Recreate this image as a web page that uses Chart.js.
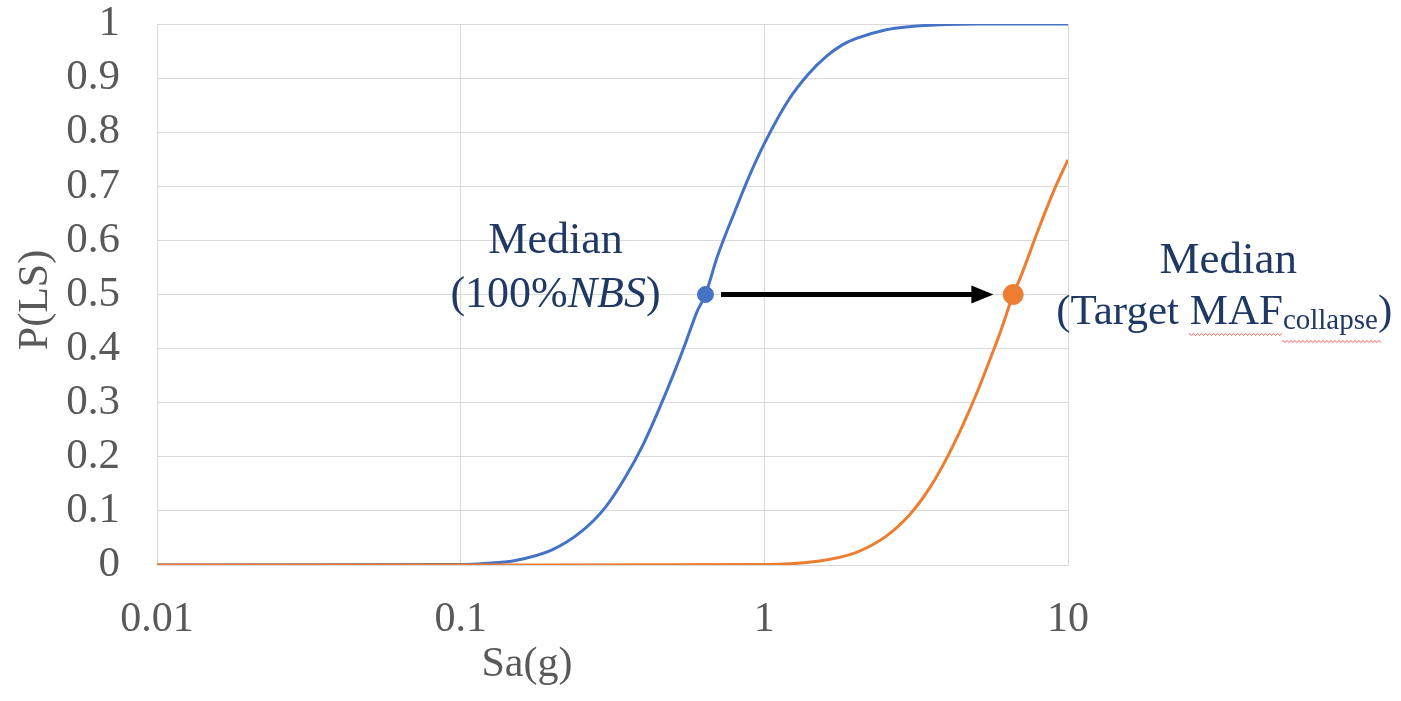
<!DOCTYPE html>
<html>
<head>
<meta charset="utf-8">
<script src="https://cdn.jsdelivr.net/npm/chart.js@4/dist/chart.umd.min.js"></script>
<style>
  html, body { margin: 0; padding: 0; background: #ffffff; }
  #wrap { width: 1401px; height: 701px; position: relative; }
</style>
</head>
<body>
<div id="wrap"><canvas id="c" width="1401" height="701"></canvas></div>
<script>
// ---- data ----
const blueX = [0.01, 0.1, 0.12, 0.15, 0.2, 0.25, 0.3, 0.35, 0.4, 0.45, 0.5, 0.55, 0.6, 0.64, 0.7, 0.8, 0.9, 1.0, 1.2, 1.4, 1.6, 1.8, 2.0, 2.5, 3.0, 4.0, 5.0, 10];
const blueY = [0, 0.001, 0.003, 0.008, 0.028, 0.062, 0.107, 0.164, 0.224, 0.288, 0.35, 0.41, 0.468, 0.5, 0.57, 0.654, 0.724, 0.779, 0.859, 0.908, 0.94, 0.961, 0.973, 0.989, 0.995, 0.999, 1, 1];
const orangeX = [0.01, 0.1, 1.0, 1.5, 2.0, 2.5, 3.0, 3.5, 4.0, 4.5, 5.0, 5.5, 6.0, 6.6, 7.0, 8.0, 9.0, 10];
const orangeY = [0, 0, 0.001, 0.007, 0.023, 0.052, 0.092, 0.142, 0.199, 0.258, 0.317, 0.376, 0.432, 0.5, 0.534, 0.621, 0.693, 0.749];
const blueMedian = [0.64, 0.5];
const orangeMedian = [6.6, 0.5];
const arrowFromX = 0.72;
const arrowToX = 5.68;
const arrowY = 0.5;
const xTickValues = [0.01, 0.1, 1, 10];
const xTickLabels = ['0.01', '0.1', '1', '10'];
const yTickLabels = ['0', '0.1', '0.2', '0.3', '0.4', '0.5', '0.6', '0.7', '0.8', '0.9', '1'];
const xTitle = 'Sa(g)';
const yTitle = 'P(LS)';

const FONT = "'Liberation Serif', 'Times New Roman', serif";
const BLUE = '#4472C4';
const ORANGE = '#ED7D31';
const NAVY = '#1F3864';
const GREY_TXT = '#595959';

const toPts = (xs, ys) => xs.map((x, i) => ({ x: x, y: ys[i] }));

const overlay = {
  id: 'overlay',
  afterDatasetsDraw(chart) {
    const ctx = chart.ctx;
    const xs = chart.scales.x, ys = chart.scales.y;
    const x0 = xs.getPixelForValue(arrowFromX);
    const x1 = xs.getPixelForValue(arrowToX);
    const y = ys.getPixelForValue(arrowY);
    ctx.save();
    ctx.strokeStyle = '#000000';
    ctx.fillStyle = '#000000';
    ctx.lineWidth = 5;
    ctx.beginPath();
    ctx.moveTo(x0, y);
    ctx.lineTo(x1 - 18, y);
    ctx.stroke();
    ctx.beginPath();
    ctx.moveTo(x1, y);
    ctx.lineTo(x1 - 22, y - 9);
    ctx.lineTo(x1 - 22, y + 9);
    ctx.closePath();
    ctx.fill();
    ctx.restore();
  },
  afterDraw(chart) {
    const ctx = chart.ctx;
    const xs = chart.scales.x, ys = chart.scales.y;
    ctx.save();
    ctx.fillStyle = GREY_TXT;
    ctx.font = '42px ' + FONT;
    ctx.textAlign = 'center';
    ctx.textBaseline = 'middle';
    ctx.fillText(xTitle, 527, 665);
    ctx.save();
    ctx.translate(36, 300);
    ctx.rotate(-Math.PI / 2);
    ctx.fillText(yTitle, 0, 0);
    ctx.restore();

    ctx.fillStyle = NAVY;
    const bx = xs.getPixelForValue(blueMedian[0]);
    const by = ys.getPixelForValue(blueMedian[1]);
    ctx.font = '44px ' + FONT;
    ctx.textAlign = 'center';
    ctx.fillText('Median', bx - 150, by - 53);
    const p1 = '(100%', p2 = 'NBS', p3 = ')';
    ctx.font = '44px ' + FONT;
    const w1 = ctx.measureText(p1).width, w3 = ctx.measureText(p3).width;
    ctx.font = 'italic 44px ' + FONT;
    const w2 = ctx.measureText(p2).width;
    let sx = bx - 150 - (w1 + w2 + w3) / 2;
    ctx.textAlign = 'left';
    ctx.font = '44px ' + FONT;
    ctx.fillText(p1, sx, by + 1);
    ctx.font = 'italic 44px ' + FONT;
    ctx.fillText(p2, sx + w1, by + 1);
    ctx.font = '44px ' + FONT;
    ctx.fillText(p3, sx + w1 + w2, by + 1);

    const ox = xs.getPixelForValue(orangeMedian[0]);
    const oy = ys.getPixelForValue(orangeMedian[1]);
    ctx.textAlign = 'center';
    ctx.font = '45px ' + FONT;
    ctx.fillText('Median', ox + 215, oy - 33);
    const q1 = '(Target ', q2 = 'MAF', q3 = 'collapse', q4 = ')';
    ctx.font = '43px ' + FONT;
    const v1 = ctx.measureText(q1).width, v2 = ctx.measureText(q2).width, v4 = ctx.measureText(q4).width;
    ctx.font = '29px ' + FONT;
    const v3 = ctx.measureText(q3).width;
    let tx = ox + 211 - (v1 + v2 + v3 + v4) / 2;
    const ty = oy + 18;
    ctx.textAlign = 'left';
    ctx.font = '43px ' + FONT;
    ctx.fillText(q1, tx, ty);
    ctx.fillText(q2, tx + v1, ty);
    ctx.font = '29px ' + FONT;
    ctx.fillText(q3, tx + v1 + v2, ty + 9);
    ctx.font = '43px ' + FONT;
    ctx.fillText(q4, tx + v1 + v2 + v3, ty);
    ctx.strokeStyle = '#F26B6B';
    ctx.lineWidth = 1;
    const sq = (a, b, yy) => {
      ctx.beginPath();
      let up = true;
      ctx.moveTo(a, yy);
      for (let px = a; px <= b; px += 2) {
        ctx.lineTo(px, yy + (up ? -1.2 : 1.2));
        up = !up;
      }
      ctx.stroke();
    };
    sq(tx + v1, tx + v1 + v2, ty + 22);
    sq(tx + v1 + v2, tx + v1 + v2 + v3 + 4, ty + 29);
    ctx.restore();
  }
};

new Chart(document.getElementById('c'), {
  type: 'scatter',
  data: {
    datasets: [
      { label: 'Median 100%NBS', data: [{ x: blueMedian[0], y: blueMedian[1] }], showLine: false,
        pointRadius: 8, pointBackgroundColor: BLUE, pointBorderColor: BLUE, order: 0 },
      { label: 'Median target', data: [{ x: orangeMedian[0], y: orangeMedian[1] }], showLine: false,
        pointRadius: 10, pointBackgroundColor: ORANGE, pointBorderColor: ORANGE, order: 0 },
      { label: 'Orange', data: toPts(orangeX, orangeY), showLine: true, borderColor: ORANGE,
        borderWidth: 3, pointRadius: 0, cubicInterpolationMode: 'monotone', order: 1 },
      { label: 'Blue', data: toPts(blueX, blueY), showLine: true, borderColor: BLUE,
        borderWidth: 3, pointRadius: 0, cubicInterpolationMode: 'monotone', order: 2 }
    ]
  },
  options: {
    responsive: false,
    animation: false,
    events: [],
    layout: { padding: { top: 24, right: 333, left: 0, bottom: 0 } },
    plugins: { legend: { display: false }, tooltip: { enabled: false } },
    scales: {
      x: {
        type: 'logarithmic',
        min: 0.01, max: 10,
        afterBuildTicks(scale) {
          scale.ticks = xTickValues.map(v => ({ value: v }));
        },
        afterFit(scale) { scale.height = 136; },
        ticks: {
          color: GREY_TXT, font: { family: FONT, size: 42 }, padding: 30,
          maxRotation: 0, autoSkip: false,
          callback(value) {
            const i = xTickValues.findIndex(v => Math.abs(v - value) < v * 1e-6);
            return i >= 0 ? xTickLabels[i] : '';
          }
        },
        grid: { color: '#D9D9D9', lineWidth: 1, drawTicks: false },
        border: { color: '#D9D9D9' }
      },
      y: {
        type: 'linear',
        min: 0, max: 1,
        afterFit(scale) { scale.width = 157; scale.paddingTop = 0; scale.paddingBottom = 0; },
        ticks: {
          stepSize: 0.1, autoSkip: false, color: GREY_TXT, font: { family: FONT, size: 43 }, padding: 37,
          callback(value) {
            const i = Math.round(value * 10);
            return yTickLabels[i];
          }
        },
        grid: { color: '#D9D9D9', lineWidth: 1, drawTicks: false },
        border: { color: '#D9D9D9' }
      }
    }
  },
  plugins: [overlay]
});
</script>
</body>
</html>
